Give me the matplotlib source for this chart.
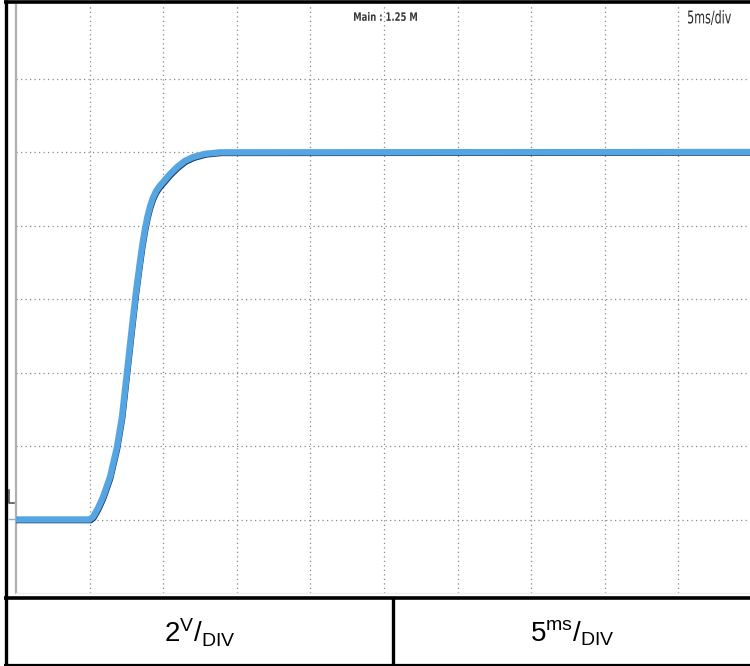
# -*- coding: utf-8 -*-
# Oscilloscope capture: step response, 2 V/div, 5 ms/div

#%% imports
import matplotlib
matplotlib.use('Agg')
import matplotlib.pyplot as plt
from matplotlib.textpath import TextPath
from matplotlib.patches import PathPatch
from matplotlib.font_manager import FontProperties
from matplotlib.transforms import Affine2D, ScaledTranslation
import numpy as np

#%% data
t_ms = [0.0, 5.0, 5.23, 5.57, 5.91, 6.39, 6.86, 7.20, 7.54, 7.88, 8.15, 8.42,
        8.60, 8.76, 8.93, 9.10, 9.30, 9.51, 9.75, 9.99, 10.46, 10.94, 11.48,
        12.02, 12.84, 13.86, 50.0]
volts = [0.0, 0.0, 0.07, 0.31, 0.61, 1.16, 1.97, 2.79, 4.01, 5.24, 6.19, 7.01,
         7.52, 7.90, 8.24, 8.51, 8.75, 8.93, 9.07, 9.18, 9.40, 9.59, 9.76,
         9.86, 9.95, 9.99, 10.0]

v_per_div = 2      # [V]
t_per_div = 5      # [ms]
n_xdiv = 10
n_ydiv = 8
v_offset = -2      # screen bottom [V]

screen_label = 'Main : 1.25 M'
timebase_label = '5ms/div'
cell_left = r'$\mathregular{2^{V}/_{DIV}}$'
cell_right = r'$\mathregular{5^{ms}/_{DIV}}$'

#%% figure
W, H = 750, 666
fig = plt.figure(figsize=(W/100, H/100), dpi=100)
plt.rcParams.update({'font.family': ['Liberation Sans', 'DejaVu Sans'],
                     'mathtext.fontset': 'custom',
                     'mathtext.rm': 'Liberation Sans'})

# screen area in pixels: left 16, top 5, 73.6 px/div horizontal, 73.5 px/div vertical
sx0, sy0, dx, dy = 16, 5, 73.6, 73.5
ax = fig.add_axes([sx0/W, (H - sy0 - n_ydiv*dy)/H, n_xdiv*dx/W, n_ydiv*dy/H])
ax.set_xlim(0, n_xdiv*t_per_div)
ax.set_ylim(v_offset, v_offset + n_ydiv*v_per_div)
ax.set_xticks([])
ax.set_yticks([])
for s in ['top', 'right']:
    ax.spines[s].set_visible(False)
ax.spines['left'].set_color('#b0b0b0')
ax.spines['left'].set_linewidth(1.6)
ax.spines['bottom'].set_color('#eeeeee')
ax.spines['bottom'].set_linewidth(1.0)

# dotted graticule
for k in range(1, n_xdiv):
    ax.axvline(k*t_per_div, color='#8a8a8a', lw=0.9, ls=(0, (1, 2.6)), zorder=1)
for k in range(1, n_ydiv):
    ax.axhline(v_offset + k*v_per_div, color='#8a8a8a', lw=0.9, ls=(0, (1, 2.6)), zorder=1)

# trace: dark edge under a light blue band
off = ScaledTranslation(1.5/100, -2.0/100, fig.dpi_scale_trans)
ax.plot(t_ms, volts, color='#1d3763', lw=2.6, solid_joinstyle='round',
        transform=ax.transData + off, zorder=3)
ax.plot(t_ms, volts, color='#55a5e3', lw=4.6, solid_joinstyle='round',
        solid_capstyle='butt', zorder=4)

#%% overlay in pixel units: frame, table, squeezed scope labels
ov = fig.add_axes([0, 0, 1, 1])
ov.set_xlim(0, W)
ov.set_ylim(H, 0)
ov.axis('off')
ov.patch.set_alpha(0)


def squeezed(s, x0, y_bottom, w, h, color, weight='normal'):
    tp = TextPath((0, 0), s, size=10,
                  prop=FontProperties(family='DejaVu Sans', weight=weight))
    bb = tp.get_extents()
    tr = Affine2D().translate(-bb.x0, -bb.y0).scale(w/bb.width, -h/bb.height).translate(x0, y_bottom)
    ov.add_patch(PathPatch(tr.transform_path(tp), color=color, lw=0))


squeezed(screen_label, 354, 21, 63, 9, '#3a3a3a', weight='bold')
squeezed(timebase_label, 688, 25, 43, 15, '#2a2a2a')

# channel marker at the left edge of the screen
ov.plot([9, 9, 14], [490, 503, 503], color='#555555', lw=1.2)
ov.plot([9, 15], [519, 519], color='#7fb4dc', lw=1.0)

k = dict(color='black', solid_capstyle='butt')
ov.plot([5.5, 5.5], [0, H], lw=2.4, **k)          # left frame
ov.plot([4, W], [1.5, 1.5], lw=2.6, **k)           # top frame
ov.plot([4, W], [597.5, 597.5], lw=2.6, **k)       # table top
ov.plot([4, W], [665, 665], lw=1.6, **k)           # table bottom
ov.plot([392.5, 392.5], [597, H], lw=2.4, **k)     # cell divider

ov.text(200, 633, cell_left, fontsize=20, ha='center', va='center')
ov.text(572, 633, cell_right, fontsize=20, ha='center', va='center')

fig.savefig('out.png', dpi=100)
